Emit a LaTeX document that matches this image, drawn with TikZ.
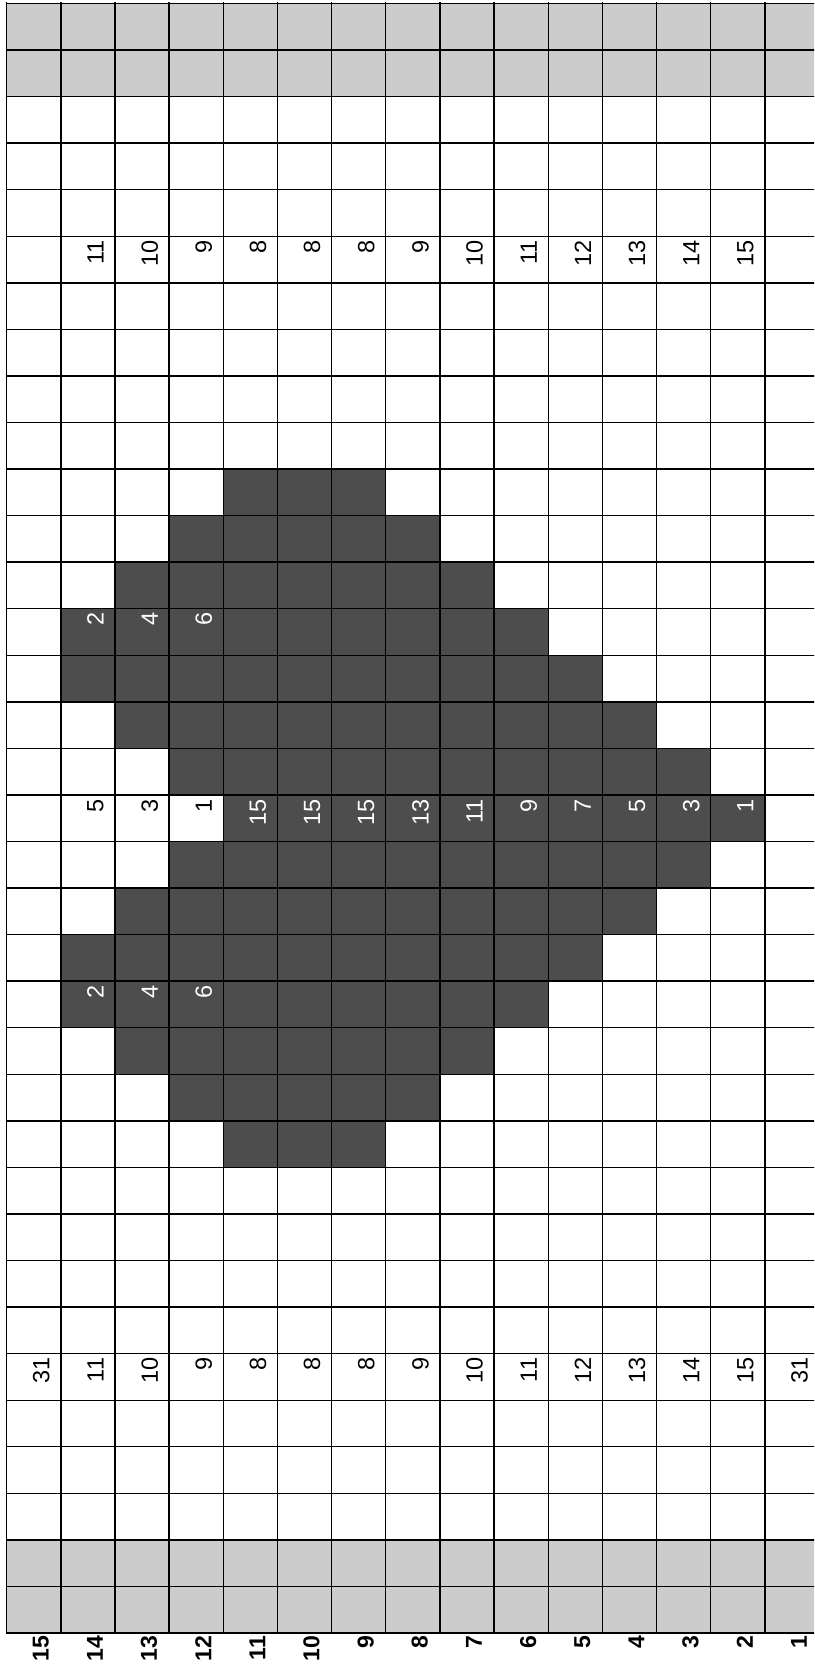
\documentclass[tikz,border=0pt]{standalone}
\usepackage{fontspec}
\setmainfont{Liberation Sans}
\definecolor{cellgray}{RGB}{204,204,204}
\definecolor{celldark}{RGB}{77,77,77}
\tikzset{
  gridline/.style={draw=black, line width=1.4pt},
  graycell/.style={fill=cellgray},
  darkcell/.style={fill=celldark},
  numtext/.style={rotate=90, anchor=east, inner sep=0pt, font=\fontsize{23.5}{24}\selectfont},
  wnum/.style={numtext, text=white},
  bnum/.style={numtext, text=black},
  axislabel/.style={rotate=90, anchor=east, inner sep=0pt, font=\fontsize{23}{24}\selectfont\bfseries}
}
\newcommand{\colL}[1]{6.7+(#1-1)*54.15}
\newcommand{\colC}[1]{6.7+(#1-0.5)*54.15+7.6}
\newcommand{\rowT}[1]{1661.5-(#1-1)*46.557}
\begin{document}
\begin{tikzpicture}[x=1pt,y=1pt]
\useasboundingbox (0,0) rectangle (814,1665);
\clip (0,0) rectangle (814,1665);
% gray rows
\foreach \r in {1,2,34,35}
  \fill[graycell] ({\colL{1}},{\rowT{\r}}) rectangle ({\colL{16}},{\rowT{\r}-46.557});
% dark cells
\foreach \r/\a/\b in {11/5/7,12/4/8,13/3/9,14/2/10,15/2/11,16/3/12,17/4/13,18/5/14,19/4/13,20/3/12,21/2/11,22/2/10,23/3/9,24/4/8,25/5/7}
  \fill[darkcell] ({\colL{\a}},{\rowT{\r}}) rectangle ({\colL{\b+1}},{\rowT{\r}-46.557});
% grid lines
\foreach \c in {1,...,16}
  \draw[gridline] ({\colL{\c}},{\rowT{1}+1}) -- ({\colL{\c}},{\rowT{36}});
\foreach \r in {1,...,36}
  \draw[gridline] ({\colL{1}-0.7},{\rowT{\r}}) -- ({\colL{16}},{\rowT{\r}});
% row 6 numbers
\foreach \v [count=\i] in {11,10,9,8,8,8,9,10,11,12,13,14,15}
  \node[bnum] (top-\i) at ({\colC{\i+1}},{\rowT{6}-4}) {\v};
% row 30 numbers
\foreach \v [count=\i] in {31,11,10,9,8,8,8,9,10,11,12,13,14,15,31}
  \node[bnum] (bot-\i) at ({\colC{\i}},{\rowT{30}-4}) {\v};
% row 18 numbers
\foreach \v [count=\i] in {5,3,1}
  \node[bnum] (mid-\i) at ({\colC{\i+1}},{\rowT{18}-4}) {\v};
\foreach \v [count=\i] in {15,15,15,13,11,9,7,5,3,1}
  \node[wnum] (midd-\i) at ({\colC{\i+4}},{\rowT{18}-4}) {\v};
% rows 14 and 22
\foreach \r in {14,22}
  \foreach \v [count=\i] in {2,4,6}
    \node[wnum] (e-\r-\i) at ({\colC{\i+1}},{\rowT{\r}-4}) {\v};
% axis labels
\foreach \c in {1,...,15}
  \node[axislabel] (lab-\c) at ({\colC{\c}-0.6},{1665-1636}) {\the\numexpr16-\c\relax};
\end{tikzpicture}
\end{document}
